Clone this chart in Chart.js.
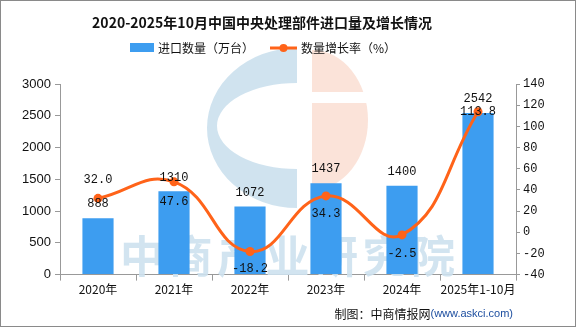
<!DOCTYPE html>
<html>
<head>
<meta charset="utf-8">
<script src="https://cdn.jsdelivr.net/npm/chart.js@4"></script>
<style>
  html, body { margin: 0; padding: 0; background: #fff; }
  #wrap { width: 576px; height: 327px; }
</style>
</head>
<body>
<div id="wrap"><canvas id="c" width="576" height="327"></canvas></div>
<script>
// datos
const categories = ['2020年', '2021年', '2022年', '2023年', '2024年', '2025年1-10月'];
const importQty = [888, 1310, 1072, 1437, 1400, 2542];     // 万台
const growthRate = [32.0, 47.6, -18.2, 34.3, -2.5, 113.8]; // %
const leftTicks = [0, 500, 1000, 1500, 2000, 2500, 3000];
const rightTicks = [-40, -20, 0, 20, 40, 60, 80, 100, 120, 140];

const BLUE = '#3D9DF0';
const ORANGE = '#FF6319';
const AXIS = '#999999';
const CJK = '"Noto Sans CJK SC", "Noto Sans", sans-serif';

// desplazamiento vertical de las etiquetas de la línea (px)
const rateLabelOffset = [-19, 20, 17, 18, 19, 0];

// marca de agua + título + leyenda + pie + borde
const decor = {
  id: 'decor',
  beforeDatasetsDraw(chart) {
    const ctx = chart.ctx;
    ctx.save();
    // logo azul
    ctx.fillStyle = 'rgba(200,222,236,0.85)';
    ctx.beginPath();
    ctx.ellipse(297, 128, 90, 80, 0, Math.PI / 2, Math.PI * 1.5);
    ctx.lineTo(297, 83);
    ctx.ellipse(297, 126, 80, 43, 0, Math.PI * 1.5, Math.PI / 2, true);
    ctx.closePath();
    ctx.fill();
    // logo rosa
    ctx.fillStyle = 'rgba(250,222,210,0.85)';
    ctx.beginPath();
    ctx.ellipse(312, 120, 56, 70, 0, -Math.PI / 2, Math.PI / 2);
    ctx.closePath();
    ctx.fill();
    ctx.fillStyle = '#fff';
    ctx.fillRect(312, 92, 60, 11);
    // texto
    ctx.fillStyle = 'rgba(205,225,238,0.9)';
    ctx.font = 'bold 44px ' + CJK;
    ctx.textAlign = 'left';
    ctx.textBaseline = 'middle';
    const wm = '中商产业研究院';
    for (let i = 0; i < wm.length; i++) ctx.fillText(wm[i], 120 + i * 48.5, 256);
    ctx.restore();
  },
  afterDraw(chart) {
    const ctx = chart.ctx;
    ctx.save();
    // título
    ctx.fillStyle = '#111';
    ctx.font = 'bold 14px ' + CJK;
    ctx.textAlign = 'center';
    ctx.textBaseline = 'middle';
    ctx.fillText('2020-2025年10月中国中央处理部件进口量及增长情况', 262, 23);
    // leyenda
    ctx.font = '12px ' + CJK;
    ctx.textAlign = 'left';
    ctx.fillStyle = BLUE;
    ctx.fillRect(130, 43, 24, 9);
    ctx.fillStyle = '#111';
    ctx.fillText('进口数量（万台）', 158, 48);
    ctx.strokeStyle = ORANGE;
    ctx.lineWidth = 3;
    ctx.beginPath();
    ctx.moveTo(270, 48);
    ctx.lineTo(297, 48);
    ctx.stroke();
    ctx.fillStyle = ORANGE;
    ctx.beginPath();
    ctx.arc(283.5, 48, 4, 0, Math.PI * 2);
    ctx.fill();
    ctx.fillStyle = '#111';
    ctx.fillText('数量增长率（%）', 301, 48);
    // pie
    ctx.textAlign = 'right';
    ctx.font = '11px "Liberation Sans", sans-serif';
    ctx.fillStyle = '#1E4FA0';
    const src = '(www.askci.com)';
    ctx.fillText(src, 513, 314);
    const w = ctx.measureText(src).width;
    ctx.font = '12px ' + CJK;
    ctx.fillStyle = '#111';
    ctx.fillText('制图：中商情报网', 513 - w, 314);
    // borde
    ctx.strokeStyle = '#8a8a8a';
    ctx.lineWidth = 1;
    ctx.strokeRect(0.5, 0.5, 575, 326);
    ctx.restore();
  }
};

// etiquetas de valores
const valueLabels = {
  id: 'valueLabels',
  afterDatasetsDraw(chart) {
    const ctx = chart.ctx;
    ctx.save();
    ctx.font = '12px "Liberation Mono", monospace';
    ctx.fillStyle = '#111';
    ctx.textAlign = 'center';
    ctx.textBaseline = 'middle';
    chart.getDatasetMeta(1).data.forEach((bar, i) => {
      ctx.fillText(String(importQty[i]), bar.x, bar.y - 14);
    });
    chart.getDatasetMeta(0).data.forEach((pt, i) => {
      ctx.fillText(growthRate[i].toFixed(1), pt.x, pt.y + rateLabelOffset[i]);
    });
    ctx.restore();
  }
};

new Chart(document.getElementById('c'), {
  data: {
    labels: categories,
    datasets: [
      {
        type: 'line',
        label: '数量增长率（%）',
        data: growthRate,
        yAxisID: 'y1',
        borderColor: ORANGE,
        backgroundColor: ORANGE,
        borderWidth: 3,
        pointRadius: 4.5,
        pointBackgroundColor: ORANGE,
        pointBorderWidth: 0,
        tension: 0.45,
        order: 0
      },
      {
        type: 'bar',
        label: '进口数量（万台）',
        data: importQty,
        yAxisID: 'y',
        backgroundColor: BLUE,
        barPercentage: 0.41,
        categoryPercentage: 1,
        order: 1
      }
    ]
  },
  options: {
    responsive: false,
    animation: false,
    layout: { padding: { top: 84, bottom: 28, left: 0, right: 0 } },
    plugins: {
      legend: { display: false },
      title: { display: false },
      tooltip: { enabled: false }
    },
    scales: {
      x: {
        grid: { display: true, drawOnChartArea: false, color: AXIS, tickLength: 6, offset: true },
        border: { color: AXIS },
        ticks: { color: '#111', font: { size: 12, family: CJK }, padding: 2, maxRotation: 0, autoSkip: false }
      },
      y: {
        position: 'left',
        min: 0, max: 3000,
        afterBuildTicks: s => { s.ticks = leftTicks.map(v => ({ value: v })); },
        afterFit: s => { s.width = 60; },
        grid: { drawOnChartArea: false, color: AXIS, tickLength: 5 },
        border: { color: AXIS },
        ticks: { color: '#111', font: { size: 13, family: '"Liberation Sans", sans-serif' }, padding: 4, callback: v => String(v) }
      },
      y1: {
        position: 'right',
        min: -40, max: 140,
        afterBuildTicks: s => { s.ticks = rightTicks.map(v => ({ value: v })); },
        afterFit: s => { s.width = 60; },
        grid: { drawOnChartArea: false, color: AXIS, tickLength: 4 },
        border: { color: AXIS },
        ticks: { color: '#111', font: { size: 12, family: '"Liberation Mono", monospace' }, padding: 3, callback: v => String(v) }
      }
    }
  },
  plugins: [decor, valueLabels]
});
</script>
</body>
</html>
